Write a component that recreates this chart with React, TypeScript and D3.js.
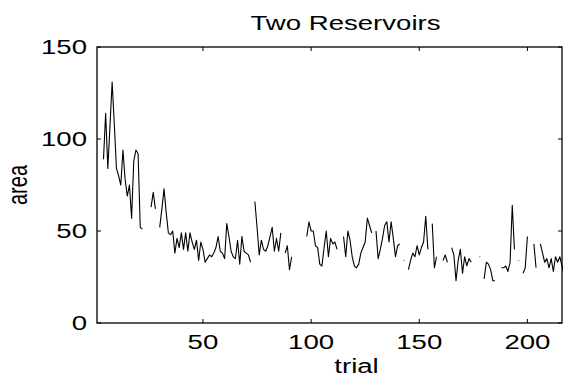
import React, { useEffect, useRef } from "react";
import * as d3 from "d3";

// Area recorded per trial (trial = index + 1); null marks trials with no value.
const area: (number | null)[] = [
  null, null, null, 89, 114, 84, 107, 131, 108, 84,
  80, 75, 94, 78, 69, 75, 57, 88, 94, 92,
  52, 51, null, null, null, 63, 71, 62, null, 52,
  62, 73, 60, 49, 48, 50, 38, 46, 41, 49,
  40, 49, 39, 49, 44, 40, 45, 34, 44, 40,
  33, 35, 37, 36, 38, 41, 47, 39, 38, 35,
  54, 47, 39, 36, 35, 45, 32, 47, 39, 38,
  37, 33, null, 66, 52, 37, 45, 40, 39, 42,
  47, 52, 39, 46, 39, 49, null, 38, 42, 29,
  36, null, null, null, null, null, null, 47, 55, 50,
  50, 42, 41, 32, 31, 41, 50, 36, 46, 43,
  44, 40, null, null, 47, 36, 50, 45, 36, 31,
  30, 32, 38, 41, 44, 57, 53, 49, null, 50,
  35, 40, 46, 53, 55, 44, 55, 46, 36, 42,
  43, null, 34, null, 29, 34, 38, 36, 42, 37,
  41, 44, 58, 40, null, 54, 30, 36, null, null,
  34, 37, 33, null, 41, 37, 23, 34, 40, 27,
  36, 31, 35, 33, null, null, null, 36, null, 24,
  33, 32, 29, 23, 23, null, null, 30, 30, 31,
  28, 33, 64, 40, null, 34, null, 27, 30, 47,
  null, null, 43, 30, null, 43, 38, 33, 35, 30,
  35, 28, 36, 33, 36, 31, 26,
];

const xTicks = [50, 100, 150, 200];
const yTicks = [0, 50, 100, 150];
const xDomain: [number, number] = [1, 216];
const yDomain: [number, number] = [0, 150];

const title = "Two Reservoirs";
const xLabel = "trial";
const yLabel = "area";

const W = 563;
const H = 379;
const M = { left: 97, right: 1, top: 47, bottom: 56 };
const FONT = "'Liberation Sans', Arial, Helvetica, sans-serif";
const FS = 20;
const SX = 1.38; // horizontal stretch of the lettering

export default function App() {
  const ref = useRef<SVGSVGElement>(null);

  useEffect(() => {
    const svg = d3.select(ref.current);
    svg.selectAll("*").remove();

    const x = d3.scaleLinear().domain(xDomain).range([M.left, W - M.right]);
    const y = d3.scaleLinear().domain(yDomain).range([H - M.bottom, M.top]);
    const [x0, x1] = x.range();
    const [y0, y1] = y.range();

    const pts = area.map((v, i) => ({ t: i + 1, v }));

    const line = d3
      .line<{ t: number; v: number | null }>()
      .defined((d) => d.v !== null)
      .x((d) => x(d.t))
      .y((d) => y(d.v as number));

    const g = svg.append("g");

    g.append("path")
      .datum(pts)
      .attr("d", line)
      .attr("fill", "none")
      .attr("stroke", "#000")
      .attr("stroke-width", 1.1)
      .attr("stroke-linejoin", "round");

    // lone values with no neighbours on either side
    const lone = pts.filter(
      (d, i) =>
        d.v !== null &&
        (i === 0 || pts[i - 1].v === null) &&
        (i === pts.length - 1 || pts[i + 1].v === null)
    );
    g.selectAll("circle.lone")
      .data(lone)
      .enter()
      .append("circle")
      .attr("cx", (d) => x(d.t))
      .attr("cy", (d) => y(d.v as number))
      .attr("r", 0.8)
      .attr("fill", "#999");

    // frame
    g.append("rect")
      .attr("x", x0)
      .attr("y", y1)
      .attr("width", x1 - x0)
      .attr("height", y0 - y1)
      .attr("fill", "none")
      .attr("stroke", "#000")
      .attr("stroke-width", 1.3);

    const tl = 4;
    xTicks.forEach((t) => {
      g.append("line").attr("x1", x(t)).attr("x2", x(t)).attr("y1", y0).attr("y2", y0 - tl).attr("stroke", "#000");
      g.append("line").attr("x1", x(t)).attr("x2", x(t)).attr("y1", y1).attr("y2", y1 + tl).attr("stroke", "#000");
    });
    yTicks.forEach((t) => {
      g.append("line").attr("x1", x0).attr("x2", x0 + tl).attr("y1", y(t)).attr("y2", y(t)).attr("stroke", "#000");
      g.append("line").attr("x1", x1).attr("x2", x1 - tl).attr("y1", y(t)).attr("y2", y(t)).attr("stroke", "#000");
    });

    const text = (
      s: string,
      tx: number,
      ty: number,
      anchor: string,
      rotate = 0
    ) =>
      g
        .append("text")
        .attr(
          "transform",
          `translate(${tx},${ty}) rotate(${rotate}) scale(${rotate ? 1 : SX},${rotate ? SX : 1})`
        )
        .attr("text-anchor", anchor)
        .attr("font-family", FONT)
        .attr("font-size", FS)
        .attr("fill", "#000")
        .text(s);

    xTicks.forEach((t) => text(String(t), x(t), y0 + 26, "middle"));
    yTicks.forEach((t) => text(String(t), x0 - 10, y(t) + 7, "end"));

    text(title, (x0 + x1) / 2 + 16, 30, "middle");
    text(xLabel, (x0 + x1) / 2 + 27, y0 + 50, "middle");
    text(yLabel, 27, (y0 + y1) / 2, "middle", -90);
  }, []);

  return (
    <svg
      ref={ref}
      width={W}
      height={H}
      style={{ position: "absolute", left: 0, top: 0, background: "#fff" }}
    />
  );
}
